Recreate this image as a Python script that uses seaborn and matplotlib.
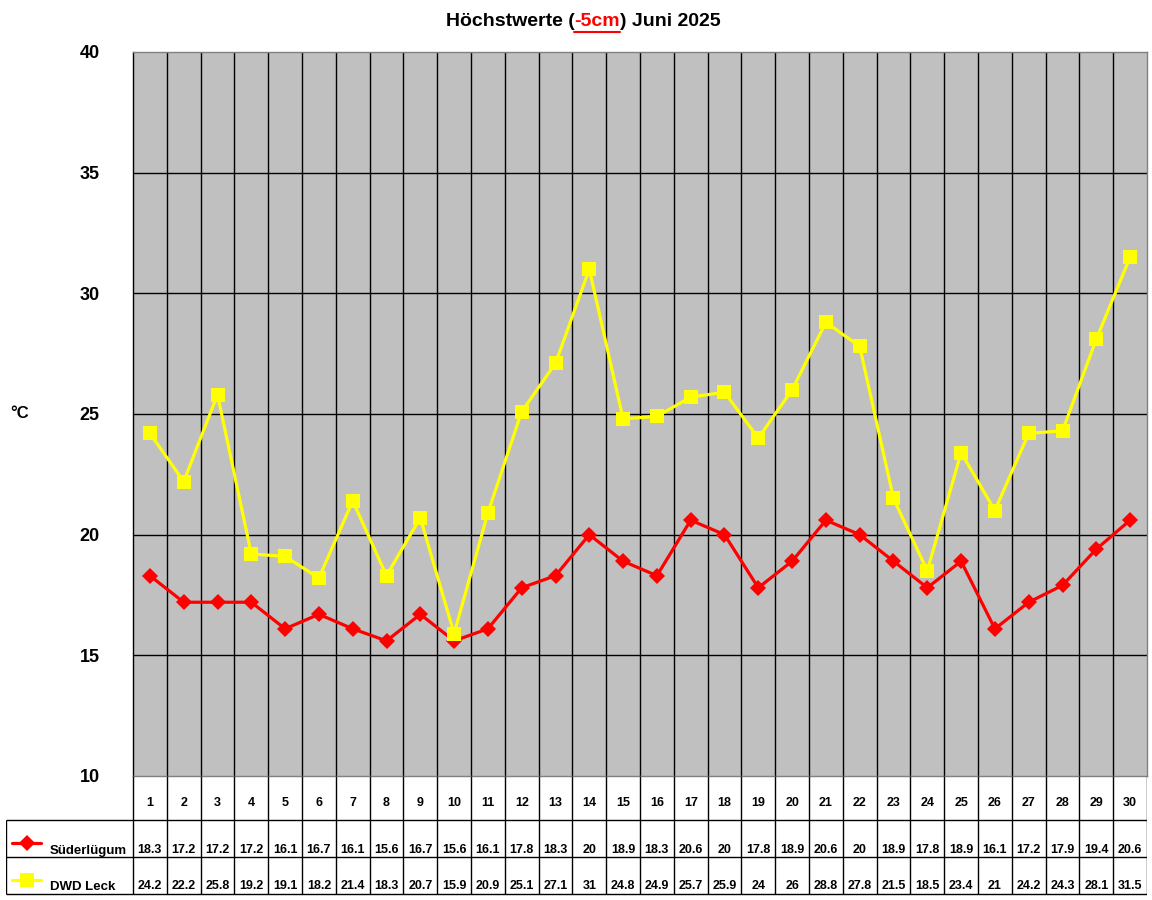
import matplotlib
matplotlib.use("Agg")
import matplotlib.pyplot as plt
import numpy as np
import pandas as pd
import seaborn as sns
from matplotlib.lines import Line2D

days = list(range(1, 31))
suederluegum = [18.3, 17.2, 17.2, 17.2, 16.1, 16.7, 16.1, 15.6, 16.7, 15.6,
                16.1, 17.8, 18.3, 20, 18.9, 18.3, 20.6, 20, 17.8, 18.9,
                20.6, 20, 18.9, 17.8, 18.9, 16.1, 17.2, 17.9, 19.4, 20.6]
dwd_leck = [24.2, 22.2, 25.8, 19.2, 19.1, 18.2, 21.4, 18.3, 20.7, 15.9,
            20.9, 25.1, 27.1, 31, 24.8, 24.9, 25.7, 25.9, 24, 26,
            28.8, 27.8, 21.5, 18.5, 23.4, 21, 24.2, 24.3, 28.1, 31.5]
series_names = ["Süderlügum", "DWD Leck"]
series_colors = ["#FF0000", "#FFFF00"]
series_markers = ["D", "s"]

sns.set_style("white")
plt.rcParams["font.family"] = ["Liberation Sans", "DejaVu Sans"]
plt.rcParams["font.weight"] = "bold"
plt.rcParams["text.color"] = "black"
plt.rcParams["ytick.color"] = "black"
plt.rcParams["ytick.labelcolor"] = "black"

W, H = 1152, 900
fig = plt.figure(figsize=(W / 100, H / 100), dpi=100)

# pixel geometry of plot area
px_l, px_r, px_t, px_b = 133, 1147, 52, 776
ax = fig.add_axes([px_l / W, 1 - px_b / H, (px_r - px_l) / W, (px_b - px_t) / H])
ax.set_facecolor("#C0C0C0")

df = pd.DataFrame({"pos": np.arange(len(days)) * 1.0,
                   series_names[0]: suederluegum,
                   series_names[1]: dwd_leck})
long = df.melt(id_vars="pos", var_name="station", value_name="temp")

sns.lineplot(data=long, x="pos", y="temp", hue="station", style="station",
             palette=dict(zip(series_names, series_colors)),
             markers=dict(zip(series_names, series_markers)),
             dashes=False, linewidth=2.3, markeredgewidth=0,
             ax=ax, legend=False)
for ln, ms in zip(ax.lines, [8, 10]):
    ln.set_markersize(ms)

ax.set_xlim(-0.5, len(days) - 0.5)
ax.set_ylim(10, 40)
ax.set_yticks(range(10, 41, 5))
ax.set_xticks([])
ax.set_xlabel("")
ax.set_ylabel("")
for b in np.arange(0.5, len(days) - 0.5, 1):
    ax.axvline(b, color="black", lw=1, zorder=1)
for yv in range(15, 40, 5):
    ax.axhline(yv, color="black", lw=1, zorder=1)
for ln in ax.lines[:2]:
    ln.set_zorder(3)
ax.tick_params(axis="y", length=6, width=1, color="black", labelcolor="black",
               labelsize=13, pad=18)
for lab in ax.get_yticklabels():
    lab.set_fontweight("bold")
for side in ["top", "right", "bottom"]:
    ax.spines[side].set_color("#808080")
ax.spines["left"].set_color("black")
for s in ax.spines.values():
    s.set_linewidth(1)

fig.text(10 / W, 1 - 413 / H, "°C", fontsize=12, fontweight="bold", ha="left", va="center")

# data table below the chart, drawn in pixel units
tab_l = 6
tx = fig.add_axes([tab_l / W, 1 - 896 / H, (px_r - tab_l) / W, (896 - px_b) / H])
tx.set_xlim(tab_l, px_r)
tx.set_ylim(896, px_b)
tx.axis("off")
cw = (px_r - px_l) / len(days)
row_y = [px_b, 820, 857, 894]
lk = dict(color="black", lw=1, solid_capstyle="butt")
for i in range(len(days) + 1):
    x = px_l + i * cw
    tx.plot([x, x], [px_b, 894], **lk)
tx.plot([tab_l, tab_l], [820, 894], **lk)
for yv in row_y[1:]:
    tx.plot([tab_l, px_r], [yv, yv], **lk)
for i, d in enumerate(days):
    xc = px_l + (i + 0.5) * cw
    tx.text(xc, 803, str(d), ha="center", va="center", fontsize=9, fontweight="bold")
    for vals, yv in [(suederluegum, 850), (dwd_leck, 886)]:
        tx.text(xc, yv, f"{vals[i]:g}", ha="center", va="center", fontsize=9, fontweight="bold")
for name, col, mk, ms, yl, yt in [(series_names[0], series_colors[0], "D", 8, 843, 851),
                                  (series_names[1], series_colors[1], "s", 10, 880, 887)]:
    tx.add_line(Line2D([12, 41], [yl, yl], color=col, lw=2.3))
    tx.plot([26.5], [yl], marker=mk, color=col, markersize=ms, markeredgewidth=0)
    tx.text(50, yt, name, ha="left", va="center", fontsize=9.5, fontweight="bold")

# title with red underlined part
parts = [("Höchstwerte (", "black"), ("-5cm", "#FF0000"), (") Juni 2025", "black")]
renderer = fig.canvas.get_renderer()
texts = [fig.text(0, 1 - 22 / H, s, color=c, fontsize=14, fontweight="bold", va="center")
         for s, c in parts]
widths = [t.get_window_extent(renderer).width for t in texts]
x0 = 583 - sum(widths) / 2
for t, w in zip(texts, widths):
    t.set_x(x0 / W)
    x0 += w
bb = texts[1].get_window_extent(renderer)
uy = (bb.y0 - 1) / H
fig.add_artist(Line2D([bb.x0 / W, bb.x1 / W], [uy, uy], color="#FF0000", lw=1.5))

fig.savefig("out.png", dpi=100)
